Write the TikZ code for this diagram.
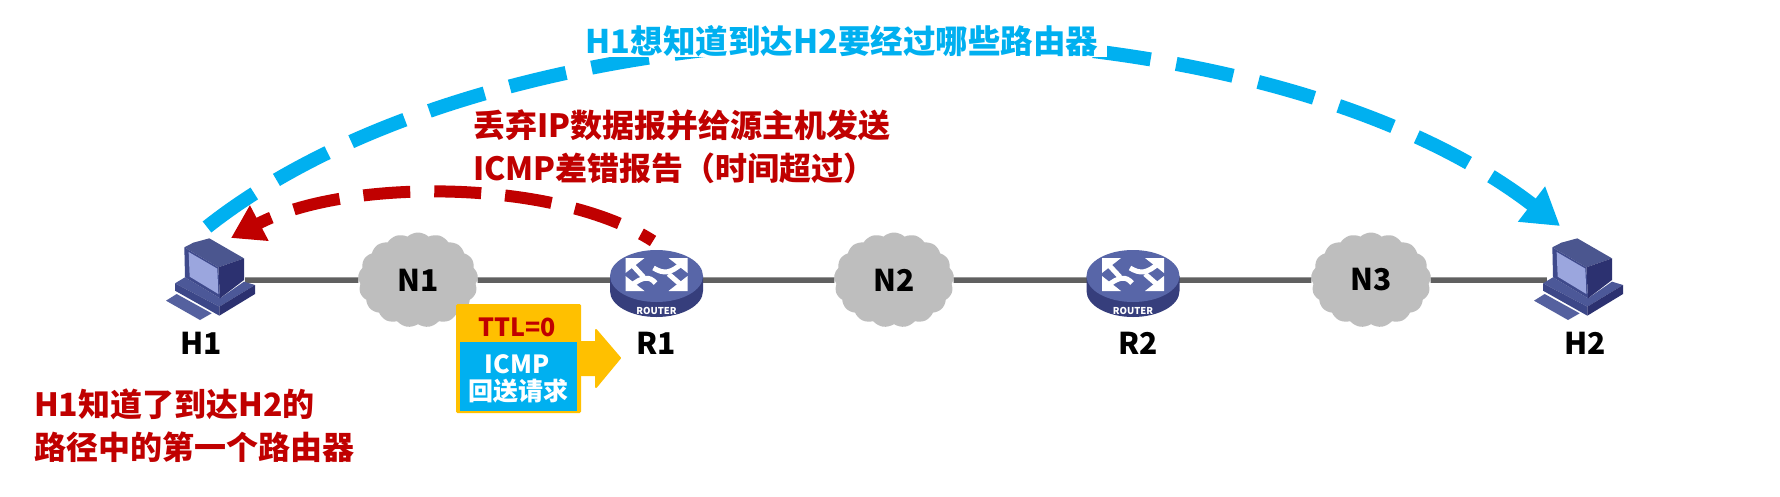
\documentclass[tikz,border=0pt]{standalone}
\usepackage{fontspec}
\setmainfont{Noto Sans CJK SC}
\usetikzlibrary{arrows.meta,shapes.symbols}
\definecolor{cblue}{HTML}{00B0F0}
\definecolor{cred}{HTML}{C00000}
\definecolor{cyel}{HTML}{FFC000}
\definecolor{cgrey}{HTML}{BEBEBE}
\definecolor{clink}{HTML}{606060}
\definecolor{pctop}{HTML}{4B568F}
\definecolor{pcfront}{HTML}{3F4A8C}
\definecolor{pcscreen}{HTML}{9BA6DE}
\definecolor{pcside}{HTML}{2C3170}
\definecolor{pcbase}{HTML}{4C5898}
\definecolor{pcbasel}{HTML}{3C4788}
\definecolor{pckey}{HTML}{55619F}
\definecolor{rtop}{HTML}{5866A8}
\definecolor{rside}{HTML}{363E7C}
\newcommand{\fs}[1]{\fontsize{#1}{#1}\selectfont\bfseries}
\tikzset{
  x=1pt,y=-1pt,
  anchorbox/.style={inner sep=0pt,minimum width=#1,minimum height=20pt},
  netcloud/.style={cloud,cloud puffs=17,cloud puff arc=85,aspect=1.25,fill=cgrey,
    minimum width=120pt,minimum height=95pt,inner sep=0pt,font=\fs{30}},
  devlabel/.style={inner sep=0pt,font=\fs{30}},
  redtext/.style={inner sep=0pt,anchor=west,text=cred,font=\fs{32}},
  bluetext/.style={fill=white,inner xsep=9pt,inner ysep=0pt,text=cblue,font=\fs{32.5}},
  link/.style={draw=clink,line width=5.5pt},
  bluearc/.style={draw=cblue,line width=14pt,dash pattern=on 58pt off 26pt,
    -{Triangle[length=36pt,width=42pt]}},
  redarc/.style={draw=cred,line width=12pt,dash pattern=on 47pt off 24pt,dash phase=33pt,
    -{Triangle[length=32pt,width=38pt]}},
  computerpic/.pic={
    \begin{scope}[scale=1/3,line join=round]
      \fill[pckey] (108,392)--(140,372)--(245,430)--(210,450)--cycle;
      \fill[pcbase] (135,340)--(165,322)--(270,385)--(342,335)--(375,345)--(268,410)--cycle;
      \fill[pcbasel] (135,340)--(268,410)--(268,437)--(135,362)--cycle;
      \fill[pcside] (268,410)--(375,345)--(375,372)--(268,437)--cycle;
      \fill[pctop] (163,232)--(190,218)--(238,205)--(342,265)--(265,292)--cycle;
      \fill[pcside] (265,292)--(342,265)--(342,330)--(270,385)--cycle;
      \fill[pcfront] (163,232)--(265,292)--(270,385)--(165,322)--cycle;
      \fill[pcscreen] (176,246)--(262,296)--(265,372)--(179,320)--cycle;
    \end{scope}
  },
  routerpic/.pic={
    \fill[rside] (-46.5,0) -- (-46.5,15) arc[start angle=180,end angle=360,x radius=46.5,y radius=-26] -- (46.5,0) -- cycle;
    \fill[rtop] (0,0) ellipse[x radius=46.5,y radius=26];
    \fill[white] (-31,-18)--(-12,-18)--(-31,-3)--cycle;
    \fill[white] (31,-18)--(12,-18)--(31,-3)--cycle;
    \fill[white] (-31,15)--(-12,15)--(-31,0)--cycle;
    \fill[white] (31,15)--(12,15)--(31,0)--cycle;
    \draw[white,line width=5pt] (-27,-14) -- (-13,1);
    \draw[white,line width=5pt] (27,-14) .. controls (14,-2) and (7,-2) .. (-3,-8);
    \draw[white,line width=5pt] (-27,11) .. controls (-14,0) and (-7,0) .. (-1,7);
    \draw[white,line width=5pt] (27,11) -- (12,-2);
    \node[inner sep=0pt,text=white,font=\fs{9.5}] (-t) at (0,35) {ROUTER};
  }
}
\begin{document}
\begin{tikzpicture}
\fill[white] (0,0) rectangle (1780,496);
\useasboundingbox (0,0) rectangle (1780,496);

% invisible anchors for the devices
\node[anchorbox=70pt] (H1) at (210,280) {};
\node[anchorbox=90pt] (R1) at (656.5,280) {};
\node[anchorbox=90pt] (R2) at (1133,280) {};
\node[anchorbox=64pt] (H2) at (1579,280) {};

% clouds
\node[netcloud] (N1) at (418,280) {N1};
\node[netcloud] (N2) at (894,280) {N2};
\node[netcloud] (N3) at (1371,280) {N3};

% links
\draw[link] (H1) -- (N1);
\draw[link] (N1) -- (R1);
\draw[link] (R1) -- (N2);
\draw[link] (N2) -- (R2);
\draw[link] (R2) -- (N3);
\draw[link] (N3) -- (H2);

% devices
\pic at (130,170) {computerpic};
\pic at (1498,170) {computerpic};
\pic (r1) at (656.5,276) {routerpic};
\pic (r2) at (1133,276) {routerpic};

% device labels
\node[devlabel] (lH1) at (201,343) {H1};
\node[devlabel] (lR1) at (656,343) {R1};
\node[devlabel] (lR2) at (1138,343) {R2};
\node[devlabel] (lH2) at (1585,343) {H2};

% arcs
\coordinate (bs) at (207,227);
\coordinate (bc1) at (520,-20);
\coordinate (bc2) at (1240,-20);
\coordinate (be) at (1560,226);
\draw[bluearc] (bs) .. controls (bc1) and (bc2) .. (be);
\node[bluetext] (tblue) at (842,41) {H1想知道到达H2要经过哪些路由器};

\coordinate (rs) at (653,241);
\coordinate (rc1) at (555,178);
\coordinate (rc2) at (345,178);
\coordinate (re) at (231,238);
\draw[redarc] (rs) .. controls (rc1) and (rc2) .. (re);

% texts
\node[redtext] (t1) at (473,125) {丢弃IP数据报并给源主机发送};
\node[redtext] (t2) at (473,168) {ICMP差错报告（时间超过）};
\node[redtext] (t3) at (34,404) {H1知道了到达H2的};
\node[redtext] (t4) at (34,447) {路径中的第一个路由器};

% packet
\coordinate (pa) at (581,342);
\coordinate (pb) at (596,342);
\coordinate (pc) at (596,330);
\coordinate (pd) at (620,358);
\coordinate (pe) at (596,387);
\coordinate (pf) at (596,375);
\coordinate (pg) at (581,375);
\fill[cyel,draw=cyel,line width=2pt,line join=round] (pa)--(pb)--(pc)--(pd)--(pe)--(pf)--(pg)--cycle;
\node[fill=cyel,rounded corners=1.5pt,minimum width=125pt,minimum height=109pt,inner sep=0pt] (pkt) at (518.5,358.5) {};
\node[fill=cblue,minimum width=117pt,minimum height=69pt,inner sep=0pt] (body) at (518.5,376.5) {};
\node[inner sep=0pt,text=cred,font=\fs{25}] (ttl) at (517,327) {TTL=0};
\node[inner sep=0pt,text=white,font=\fs{25}] (icmp) at (517,364) {ICMP};
\node[inner sep=0pt,text=white,font=\fs{25}] (req) at (518,391) {回送请求};
\end{tikzpicture}
\end{document}
